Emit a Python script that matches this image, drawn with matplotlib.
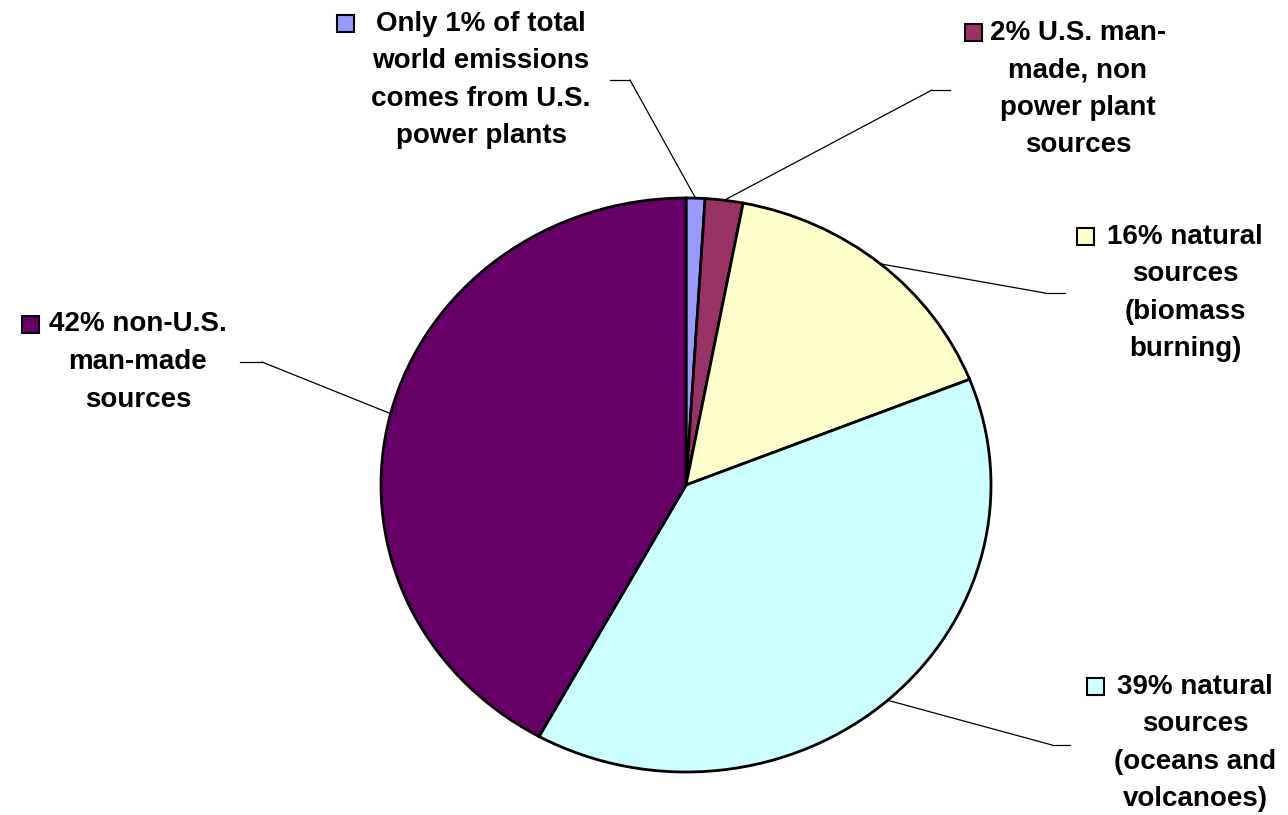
import matplotlib.pyplot as plt
from matplotlib.patches import Rectangle
from matplotlib.lines import Line2D
import numpy as np

# share of world mercury emissions (%), clockwise from the top
shares = [1, 2, 16, 39, 42]
colors = ['#9999FF', '#993366', '#FFFFCC', '#CCFFFF', '#660066']
labels = [
    ['Only 1% of total', 'world emissions', 'comes from U.S.', 'power plants'],
    ['2% U.S. man-', 'made, non', 'power plant', 'sources'],
    ['16% natural', 'sources', '(biomass', 'burning)'],
    ['39% natural', 'sources', '(oceans and', 'volcanoes)'],
    ['42% non-U.S.', 'man-made', 'sources'],
]

W, H = 1288, 815
# label layout in pixels: text centre x, block centre y, leader elbow, leader end
label_cx = [481, 1078, 1185, 1195, 138]
label_cy = [80, 89, 293, 743, 362]
elbows = [(630, 80), (932, 90), (1045, 293), (1052, 745), (262, 362)]
ends = [(610, 80), (950, 90), (1065, 293), (1070, 745), (240, 362)]
box_gap = [22, 8, 13, 13, 10]

line_gap = 37.5
font = dict(family=['Liberation Sans', 'DejaVu Sans'], weight='bold', size=20)

fig = plt.figure(figsize=(W / 100, H / 100), dpi=100)
# pie is slightly squashed in the original: 610 px wide, 574 px tall
cx, cy, rx, ry = 686, 485, 305, 287
ax = fig.add_axes([(cx - rx) / W, (H - cy - ry) / H, 2 * rx / W, 2 * ry / H])
wedges, _ = ax.pie(shares, colors=colors, startangle=90, counterclock=False,
                   wedgeprops=dict(edgecolor='black', linewidth=2))
ax.set_aspect('auto')
ax.set_xlim(-1, 1)
ax.set_ylim(-1, 1)
ax.axis('off')

def fx(px):
    return px / W

def fy(py):
    return 1 - py / H

texts = []
for i, w in enumerate(wedges):
    mid = np.deg2rad((w.theta1 + w.theta2) / 2)
    ex, ey = elbows[i]
    ax.annotate('', xy=(np.cos(mid), np.sin(mid)), xycoords='data',
                xytext=(fx(ex), fy(ey)), textcoords='figure fraction',
                arrowprops=dict(arrowstyle='-', color='black', lw=0.9,
                                shrinkA=0, shrinkB=0))
    fig.add_artist(Line2D([fx(ex), fx(ends[i][0])], [fy(ey), fy(ends[i][1])],
                          transform=fig.transFigure, color='black', lw=0.9))

    lines = labels[i]
    y0 = label_cy[i] - line_gap * (len(lines) - 1) / 2
    for k, s in enumerate(lines):
        t = fig.text(fx(label_cx[i]), fy(y0 + k * line_gap), s, ha='center',
                     va='center', color='black', **font)
        if k == 0:
            texts.append((t, i))

# colour box to the left of each label's first line
fig.canvas.draw()
r = fig.canvas.get_renderer()
box = 17
for t, i in texts:
    bb = t.get_window_extent(r)
    x1 = bb.x0 - box_gap[i]
    yc = (bb.y0 + bb.y1) / 2
    fig.add_artist(Rectangle((fx(x1 - box), (yc - box / 2) / H), box / W, box / H,
                             transform=fig.transFigure, facecolor=colors[i],
                             edgecolor='black', lw=1.5))

fig.savefig('out.png', dpi=100)
